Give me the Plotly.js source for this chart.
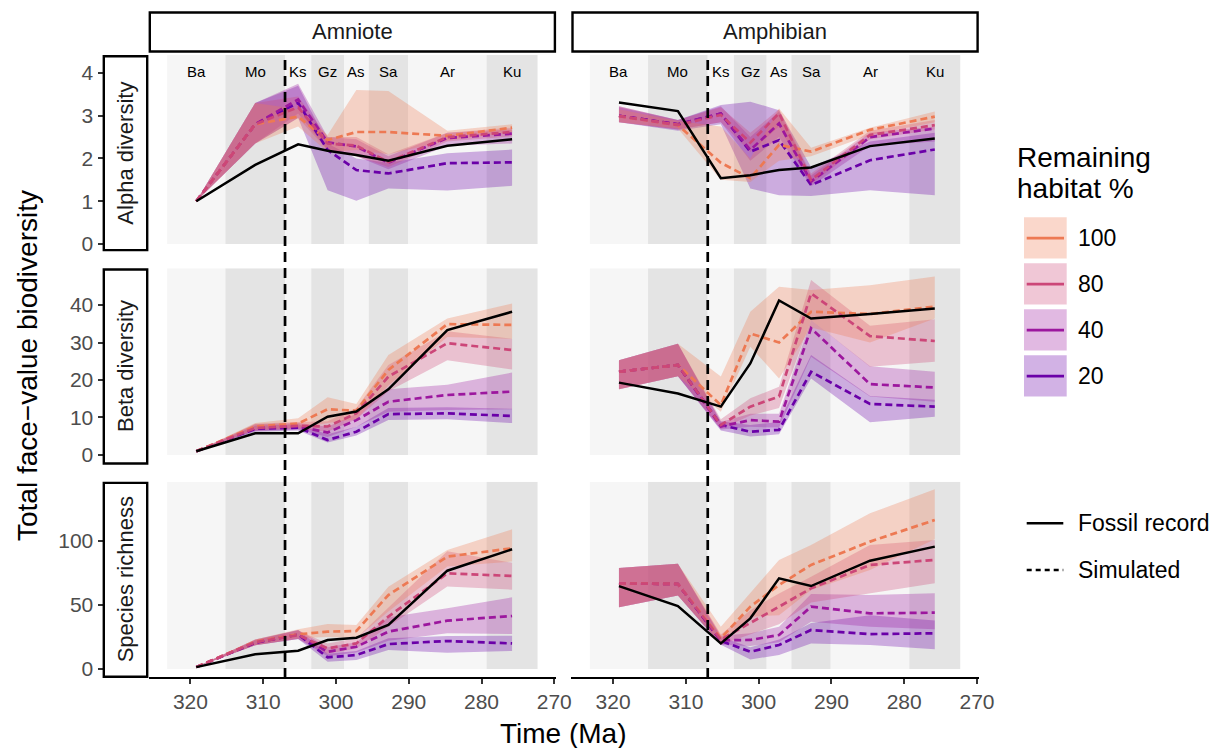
<!DOCTYPE html>
<html><head><meta charset="utf-8">
<script src="https://cdn.plot.ly/plotly-3.0.1.min.js"></script>
<style>html,body{margin:0;padding:0;background:#fff}</style>
</head><body><div id="chart" style="width:1222px;height:748px"></div>
<script>
// ---------- data ----------
const habitat = ['100', '80', '40', '20'];
const groups = ['Amniote', 'Amphibian'];
const metrics = ['Alpha diversity', 'Beta diversity', 'Species richness'];
const stageAbbr = ['Ba', 'Mo', 'Ks', 'Gz', 'As', 'Sa', 'Ar', 'Ku'];
const stageBounds = [323.2, 315.2, 307.0, 303.4, 298.9, 295.5, 290.1, 279.3, 272.3];
const stageMid = [319.2, 311.1, 305.2, 301.15, 297.2, 292.8, 284.7, 275.8];
const crcAge = 307.0;
const xTicks = [320, 310, 300, 290, 280, 270];
const yTicksAlpha = [0, 1, 2, 3, 4];
const yTicksBeta = [0, 10, 20, 30, 40];
const yTicksRich = [0, 50, 100];

// Amniote - alpha diversity (rows: 100, 80, 40, 20)
const amnAlphaFossil = [1.0, 1.85, 2.33, 2.18, 2.08, 1.95, 2.30, 2.45];
const amnAlphaMean = [
  [1.0, 2.80, 2.98, 2.43, 2.62, 2.62, 2.53, 2.72],
  [1.0, 2.80, 3.20, 2.35, 2.30, 1.92, 2.50, 2.62],
  [1.0, 2.80, 3.38, 2.38, 2.28, 1.90, 2.48, 2.58],
  [1.0, 2.80, 3.30, 2.20, 1.73, 1.65, 1.89, 1.91]];
const amnAlphaLo = [
  [1.0, 2.35, 2.75, 2.15, 2.20, 2.10, 2.42, 2.62],
  [1.0, 2.35, 2.95, 2.20, 2.05, 1.80, 2.40, 2.52],
  [1.0, 2.35, 3.05, 2.20, 2.05, 1.75, 2.30, 2.35],
  [1.0, 2.35, 2.95, 1.26, 1.01, 1.30, 1.25, 1.36]];
const amnAlphaHi = [
  [1.0, 3.30, 3.15, 2.55, 3.60, 3.58, 2.65, 2.80],
  [1.0, 3.30, 3.45, 2.50, 2.50, 2.10, 2.60, 2.72],
  [1.0, 3.30, 3.75, 2.50, 2.45, 2.05, 2.60, 2.68],
  [1.0, 3.30, 3.70, 2.35, 2.00, 1.90, 2.12, 2.21]];

// Amphibian - alpha diversity
const amphAlphaFossil = [3.31, 3.11, 1.54, 1.61, 1.73, 1.79, 2.29, 2.47];
const amphAlphaMean = [
  [2.99, 2.78, 1.90, 1.54, 2.32, 2.16, 2.67, 2.98],
  [2.99, 2.78, 3.02, 2.37, 3.06, 1.50, 2.55, 2.78],
  [3.00, 2.80, 3.05, 2.20, 2.82, 1.46, 2.50, 2.70],
  [3.00, 2.80, 3.05, 2.16, 2.43, 1.38, 1.96, 2.21]];
const amphAlphaLo = [
  [2.85, 2.70, 1.50, 1.45, 1.95, 2.05, 2.55, 2.85],
  [2.85, 2.68, 2.85, 2.15, 2.75, 1.40, 2.45, 2.68],
  [2.85, 2.68, 2.85, 1.95, 2.50, 1.35, 2.30, 2.40],
  [2.85, 2.65, 2.80, 1.30, 1.14, 1.12, 1.26, 1.14]];
const amphAlphaHi = [
  [3.15, 2.88, 2.75, 2.00, 3.17, 2.25, 2.72, 3.10],
  [3.22, 2.90, 3.20, 2.60, 3.15, 1.65, 2.65, 2.90],
  [3.22, 2.90, 3.22, 2.50, 3.10, 1.60, 2.60, 2.75],
  [3.20, 2.90, 3.25, 3.33, 3.13, 1.80, 2.40, 2.60]];

// Amniote - beta diversity
const amnBetaFossil = [1.0, 5.8, 5.8, 10.2, 11.6, 17.5, 33.3, 38.2];
const amnBetaMean = [
  [1.0, 7.6, 8.4, 12.2, 11.8, 22.7, 34.9, 34.7],
  [1.0, 7.2, 7.8, 7.6, 11.1, 20.9, 29.8, 28.0],
  [1.0, 7.2, 7.6, 6.0, 9.3, 14.2, 16.0, 16.9],
  [1.0, 7.0, 7.3, 4.0, 6.2, 10.9, 11.1, 10.4]];
const amnBetaLo = [
  [1.0, 6.8, 7.2, 8.5, 9.5, 18.5, 31.5, 31.0],
  [1.0, 6.5, 7.0, 6.2, 9.5, 17.0, 25.3, 22.8],
  [1.0, 6.4, 6.8, 4.8, 7.5, 11.5, 12.0, 12.2],
  [1.0, 6.2, 6.5, 3.3, 5.2, 9.3, 9.5, 8.5]];
const amnBetaHi = [
  [1.0, 8.5, 9.8, 15.4, 13.6, 26.7, 36.4, 40.4],
  [1.0, 8.3, 8.8, 9.0, 12.5, 24.0, 33.0, 31.0],
  [1.0, 8.2, 8.5, 7.5, 11.0, 17.5, 18.7, 22.0],
  [1.0, 7.8, 8.2, 5.5, 7.5, 12.5, 12.7, 12.3]];

// Amphibian - beta diversity
const amphBetaFossil = [19.3, 16.4, 12.9, 24.4, 41.2, 36.4, 37.6, 39.1];
const amphBetaMean = [
  [22.2, 24.0, 13.3, 32.4, 30.0, 38.2, 37.6, 39.6],
  [22.2, 24.0, 8.0, 12.9, 15.6, 43.1, 31.7, 30.4],
  [22.2, 24.0, 7.6, 9.3, 8.9, 33.8, 18.9, 18.0],
  [22.2, 24.0, 8.0, 6.2, 6.7, 22.2, 13.6, 12.9]];
const amphBetaLo = [
  [17.5, 21.0, 11.5, 28.9, 20.4, 34.0, 30.0, 36.4],
  [17.5, 21.0, 7.0, 10.5, 12.5, 36.0, 23.5, 24.9],
  [17.5, 21.0, 6.8, 7.5, 7.3, 26.2, 15.6, 14.2],
  [17.5, 21.0, 6.5, 4.9, 5.5, 20.4, 8.7, 10.2]];
const amphBetaHi = [
  [25.3, 29.7, 20.9, 38.2, 44.9, 44.0, 45.3, 47.6],
  [25.3, 29.7, 9.5, 15.1, 18.2, 46.7, 34.5, 36.2],
  [25.3, 29.7, 8.8, 11.0, 11.0, 36.0, 23.7, 22.2],
  [25.3, 29.7, 9.0, 8.0, 8.8, 26.7, 15.7, 14.7]];

// Amniote - species richness
const amnRichFossil = [1.5, 11.5, 14.3, 22.7, 24.5, 34.4, 76.8, 93.5];
const amnRichMean = [
  [1.5, 21.4, 27.1, 29.2, 29.7, 57.8, 87.8, 94.3],
  [1.5, 21.0, 26.5, 16.1, 20.0, 40.9, 74.7, 72.7],
  [1.5, 21.0, 27.0, 13.5, 17.4, 29.2, 37.8, 41.4],
  [1.5, 20.5, 27.0, 9.1, 10.9, 19.5, 21.9, 20.0]];
const amnRichLo = [
  [1.5, 18.5, 24.0, 25.0, 24.0, 45.0, 80.0, 84.0],
  [1.5, 18.5, 23.5, 12.0, 16.0, 33.0, 64.4, 62.0],
  [1.5, 18.5, 23.5, 10.0, 13.0, 22.0, 27.9, 27.3],
  [1.5, 18.5, 23.5, 5.7, 7.0, 14.8, 12.8, 14.1]];
const amnRichHi = [
  [1.5, 23.0, 31.0, 35.2, 34.4, 64.3, 93.0, 109.1],
  [1.5, 23.0, 30.0, 20.0, 24.0, 48.0, 92.0, 83.0],
  [1.5, 23.0, 30.5, 17.0, 21.0, 40.5, 47.4, 56.0],
  [1.5, 22.5, 30.5, 12.0, 14.0, 24.0, 25.8, 26.0]];

// Amphibian - species richness
const amphRichFossil = [64.8, 49.2, 20.0, 39.6, 70.8, 64.8, 84.6, 95.6];
const amphRichMean = [
  [66.9, 66.4, 24.0, 48.7, 65.6, 81.3, 99.5, 116.4],
  [66.9, 66.4, 23.0, 35.7, 48.7, 63.0, 81.3, 85.2],
  [66.9, 66.4, 22.5, 22.7, 26.6, 48.7, 43.5, 44.0],
  [66.9, 66.4, 22.0, 13.5, 18.8, 30.5, 27.3, 27.9]];
const amphRichLo = [
  [48.3, 57.4, 20.0, 40.9, 42.0, 61.7, 77.3, 101.3],
  [48.3, 57.4, 19.0, 27.0, 35.0, 52.0, 59.1, 66.9],
  [48.3, 57.4, 19.0, 18.0, 21.0, 37.0, 33.0, 31.0],
  [48.3, 57.4, 19.0, 7.5, 10.9, 20.0, 18.8, 15.4]];
const amphRichHi = [
  [79.0, 82.2, 33.0, 59.0, 85.2, 96.9, 121.6, 140.4],
  [79.0, 82.2, 27.0, 46.0, 59.0, 72.0, 96.9, 100.8],
  [79.0, 82.2, 26.0, 28.0, 33.0, 58.6, 57.8, 59.1],
  [79.0, 82.2, 25.0, 17.0, 23.0, 36.0, 42.0, 38.0]];

// ---------- styling / layout ----------
const W = 1222, H = 748;
const PX = v => v / W;
const PY = v => 1 - v / H;
const FONT = 'Liberation Sans, Arial, Helvetica, sans-serif';
const lineColors = ['#ED7953', '#CC4678', '#9C179E', '#6A00A8'];
const fillAlpha = 0.3;
function rgba(hex, a) {
  const n = parseInt(hex.slice(1), 16);
  return 'rgba(' + ((n >> 16) & 255) + ',' + ((n >> 8) & 255) + ',' + (n & 255) + ',' + a + ')';
}
const colPix = [[148.6, 556.1], [571.3, 978.8]];
const rowPix = [[55, 251.3], [268.3, 464.7], [481.7, 678]];
const rowRange = [[-0.171, 4.421], [-2.59, 49.79], [-7.0, 146.3]];
const rowTicks = [yTicksAlpha, yTicksBeta, yTicksRich];
const xRange = [325.75, 269.75];

const panels = [
  {c: 0, r: 0, f: amnAlphaFossil, m: amnAlphaMean, lo: amnAlphaLo, hi: amnAlphaHi},
  {c: 1, r: 0, f: amphAlphaFossil, m: amphAlphaMean, lo: amphAlphaLo, hi: amphAlphaHi},
  {c: 0, r: 1, f: amnBetaFossil, m: amnBetaMean, lo: amnBetaLo, hi: amnBetaHi},
  {c: 1, r: 1, f: amphBetaFossil, m: amphBetaMean, lo: amphBetaLo, hi: amphBetaHi},
  {c: 0, r: 2, f: amnRichFossil, m: amnRichMean, lo: amnRichLo, hi: amnRichHi},
  {c: 1, r: 2, f: amphRichFossil, m: amphRichMean, lo: amphRichLo, hi: amphRichHi}
];

const traces = [];
const shapes = [];
const annotations = [];
const layout = {
  width: W, height: H,
  margin: {l: 0, r: 0, t: 0, b: 0},
  paper_bgcolor: '#ffffff', plot_bgcolor: 'rgba(0,0,0,0)',
  showlegend: false,
  font: {family: FONT, color: '#000'},
  shapes: shapes, annotations: annotations
};

const ribbonOrder = [3, 2, 1, 0];
const lineOrder = [3, 2, 0, 1];

panels.forEach((p, i) => {
  const n = i + 1;
  const xid = n === 1 ? 'x' : 'x' + n;
  const yid = n === 1 ? 'y' : 'y' + n;
  const xk = n === 1 ? 'xaxis' : 'xaxis' + n;
  const yk = n === 1 ? 'yaxis' : 'yaxis' + n;
  const bottom = p.r === 2;
  const left = p.c === 0;
  layout[xk] = {
    domain: [PX(colPix[p.c][0]), PX(colPix[p.c][1])],
    range: xRange, anchor: yid, showgrid: false, zeroline: false,
    visible: bottom,
    fixedrange: true
  };
  if (bottom) {
    Object.assign(layout[xk], {
      anchor: 'free', position: PY(677.7),
      showline: true, linecolor: '#000', linewidth: 2,
      ticks: 'outside', ticklen: 5, tickwidth: 2, tickcolor: '#333',
      tickmode: 'array', tickvals: xTicks, ticktext: xTicks.map(String),
      tickfont: {family: FONT, size: 21, color: '#4d4d4d'}
    });
  }
  layout[yk] = {
    domain: [PY(rowPix[p.r][1]), PY(rowPix[p.r][0])],
    range: rowRange[p.r], anchor: xid, showgrid: false, zeroline: false,
    visible: left, fixedrange: true
  };
  if (left) {
    Object.assign(layout[yk], {
      anchor: 'free', position: PX(102.5), showline: false,
      ticks: 'outside', ticklen: 5, tickwidth: 2, tickcolor: '#333',
      tickmode: 'array', tickvals: rowTicks[p.r], ticktext: rowTicks[p.r].map(String),
      tickfont: {family: FONT, size: 21, color: '#4d4d4d'}
    });
  }
  // stage bands
  for (let s = 0; s < stageAbbr.length; s++) {
    shapes.push({
      type: 'rect', xref: xid, yref: yid, layer: 'below',
      x0: stageBounds[s], x1: stageBounds[s + 1], y0: 0, y1: rowRange[p.r][1],
      fillcolor: s % 2 === 0 ? '#F6F6F6' : '#E4E4E4', line: {width: 0}
    });
    if (p.r === 0) {
      annotations.push({
        xref: xid, yref: 'paper', x: stageMid[s], y: PY(71),
        text: stageAbbr[s], showarrow: false, xanchor: 'center', yanchor: 'middle',
        font: {family: FONT, size: 15, color: '#000'}
      });
    }
  }
  // ribbons
  ribbonOrder.forEach(k => {
    traces.push({
      type: 'scatter', mode: 'lines', xaxis: xid, yaxis: yid,
      x: stageMid.concat(stageMid.slice().reverse()),
      y: p.hi[k].concat(p.lo[k].slice().reverse()),
      fill: 'toself', fillcolor: rgba(lineColors[k], fillAlpha),
      line: {width: 0, color: 'rgba(0,0,0,0)'}, hoverinfo: 'skip'
    });
  });
  // simulated means
  lineOrder.forEach(k => {
    traces.push({
      type: 'scatter', mode: 'lines', xaxis: xid, yaxis: yid,
      x: stageMid, y: p.m[k],
      line: {color: lineColors[k], width: 2.7, dash: '7px,4px'}, hoverinfo: 'skip'
    });
  });
  // fossil record
  traces.push({
    type: 'scatter', mode: 'lines', xaxis: xid, yaxis: yid,
    x: stageMid, y: p.f, line: {color: '#000', width: 2.5}, hoverinfo: 'skip'
  });
});

// CRC dashed line spanning all rows
['x', 'x2'].forEach(xid => {
  shapes.push({
    type: 'line', xref: xid, yref: 'paper', layer: 'above',
    x0: crcAge, x1: crcAge, y0: PY(678), y1: PY(55),
    line: {color: '#000', width: 2.7, dash: '10px,6px'}
  });
});

// facet strips
groups.forEach((g, c) => {
  shapes.push({
    type: 'rect', xref: 'paper', yref: 'paper',
    x0: PX(colPix[c][0] + 1.2), x1: PX(colPix[c][1] - 1.2), y0: PY(51.5), y1: PY(12.5),
    fillcolor: '#fff', line: {color: '#000', width: 2.4}
  });
  annotations.push({
    xref: 'paper', yref: 'paper', x: PX((colPix[c][0] + colPix[c][1]) / 2), y: PY(32),
    text: g, showarrow: false, xanchor: 'center', yanchor: 'middle',
    font: {family: FONT, size: 22, color: '#1a1a1a'}
  });
});
metrics.forEach((mname, r) => {
  shapes.push({
    type: 'rect', xref: 'paper', yref: 'paper',
    x0: PX(103.8), x1: PX(147.2), y0: PY(rowPix[r][1] - 1.2), y1: PY(rowPix[r][0] + 1.2),
    fillcolor: '#fff', line: {color: '#000', width: 2.4}
  });
  annotations.push({
    xref: 'paper', yref: 'paper', x: PX(125.5), y: PY((rowPix[r][0] + rowPix[r][1]) / 2),
    text: mname, showarrow: false, textangle: -90, xanchor: 'center', yanchor: 'middle',
    font: {family: FONT, size: 22, color: '#1a1a1a'}
  });
});

// axis titles
annotations.push({
  xref: 'paper', yref: 'paper', x: PX(28), y: PY(366), text: 'Total face\u2212value biodiversity',
  showarrow: false, textangle: -90, xanchor: 'center', yanchor: 'middle',
  font: {family: FONT, size: 28, color: '#000'}
});
annotations.push({
  xref: 'paper', yref: 'paper', x: PX(563.7), y: PY(733), text: 'Time (Ma)',
  showarrow: false, xanchor: 'center', yanchor: 'middle',
  font: {family: FONT, size: 28, color: '#000'}
});

// legend: habitat
annotations.push({
  xref: 'paper', yref: 'paper', x: PX(1015), y: PY(157), text: 'Remaining',
  showarrow: false, xanchor: 'left', yanchor: 'middle', font: {family: FONT, size: 28, color: '#000'}
});
annotations.push({
  xref: 'paper', yref: 'paper', x: PX(1015), y: PY(188), text: 'habitat %',
  showarrow: false, xanchor: 'left', yanchor: 'middle', font: {family: FONT, size: 28, color: '#000'}
});
const keyTops = [217.3, 263.3, 309.3, 355.3];
habitat.forEach((h, k) => {
  const t = keyTops[k];
  shapes.push({
    type: 'rect', xref: 'paper', yref: 'paper',
    x0: PX(1024), x1: PX(1066.7), y0: PY(t + 41.3), y1: PY(t),
    fillcolor: rgba(lineColors[k], fillAlpha), line: {width: 0}
  });
  shapes.push({
    type: 'line', xref: 'paper', yref: 'paper',
    x0: PX(1026.7), x1: PX(1064), y0: PY(t + 20.8), y1: PY(t + 20.8),
    line: {color: lineColors[k], width: 2.8}
  });
  annotations.push({
    xref: 'paper', yref: 'paper', x: PX(1076), y: PY(t + 21), text: h,
    showarrow: false, xanchor: 'left', yanchor: 'middle', font: {family: FONT, size: 23, color: '#000'}
  });
});
// legend: line type
[['Fossil record', 'solid', 523.3], ['Simulated', '5px,4px', 570]].forEach(([lbl, dash, yy]) => {
  shapes.push({
    type: 'line', xref: 'paper', yref: 'paper',
    x0: PX(1026.7), x1: PX(1063.3), y0: PY(yy), y1: PY(yy),
    line: {color: '#000', width: 2.6, dash: dash}
  });
  annotations.push({
    xref: 'paper', yref: 'paper', x: PX(1076), y: PY(yy), text: lbl,
    showarrow: false, xanchor: 'left', yanchor: 'middle', font: {family: FONT, size: 23, color: '#000'}
  });
});

Plotly.newPlot('chart', traces, layout, {staticPlot: true, displayModeBar: false});
</script></body></html>
